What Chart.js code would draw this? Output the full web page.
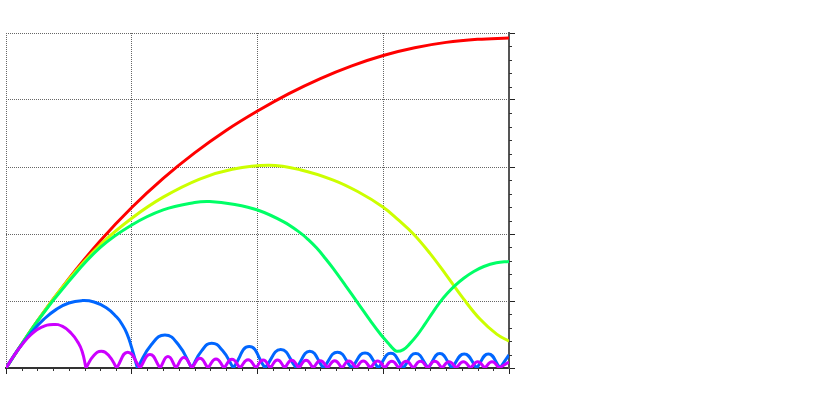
<!DOCTYPE html>
<html>
<head>
<meta charset="utf-8">
<script src="https://cdn.jsdelivr.net/npm/chart.js@4"></script>
<style>
  html, body { margin: 0; padding: 0; background: #fff; }
</style>
</head>
<body>
<canvas id="chart" width="830" height="400"></canvas>
<script>
// values; y = null breaks the line at a zero (cusp)
const redX = [0, 0.25, 0.5, 0.75, 1, 1.25, 1.5, 1.75, 2, 2.25, 2.5, 2.75, 3, 3.25, 3.5, 3.75, 4];
const redY = [0, 0.141, 0.267, 0.380, 0.479, 0.566, 0.642, 0.709, 0.767, 0.819, 0.864, 0.902, 0.933, 0.956, 0.972, 0.981, 0.985];

const yellowX = [0, 0.25, 0.5, 0.75, 1.0, 1.25, 1.54, 1.8, 2.09, 2.338, 2.603, 2.8, 3.0, 3.12, 3.24, 3.37, 3.5, 3.637, 3.769, 3.902, 4.0];
const yellowY = [0, 0.141, 0.265, 0.368, 0.447, 0.51, 0.564, 0.593, 0.605, 0.592, 0.561, 0.526, 0.48, 0.442, 0.400, 0.343, 0.278, 0.207, 0.146, 0.101, 0.08];

const greenX = [0, 0.25, 0.5, 0.75, 1.0, 1.25, 1.5, 1.62, 1.807, 2.006, 2.205, 2.338, 2.41, 2.471, 2.54, 2.6, 2.7, 2.8, 2.9, 2.98, 3.04, 3.08, 3.107, 3.16, 3.21, 3.27, 3.33, 3.39, 3.45, 3.51, 3.57, 3.64, 3.72, 3.8, 3.9, 4.0];
const greenY = [0, 0.14, 0.259, 0.36, 0.427, 0.472, 0.494, 0.497, 0.489, 0.471, 0.437, 0.404, 0.381, 0.358, 0.327, 0.298, 0.246, 0.193, 0.14, 0.1, 0.074, 0.057, 0.05, 0.055, 0.072, 0.098, 0.13, 0.164, 0.196, 0.223, 0.246, 0.268, 0.288, 0.303, 0.314, 0.318];

const blueX = [0, 0.1, 0.2, 0.3, 0.4, 0.5, 0.6, 0.7, 0.8, 0.88, 0.92, 0.96, 1.0, 1.045, 1.045,
  1.045, 1.157, 1.264, 1.37, 1.477, 1.477,
  1.477, 1.557, 1.636, 1.722, 1.808, 1.808,
  1.808, 1.934, 2.06, 2.06,
  2.06, 2.185, 2.309, 2.309,
  2.309, 2.416, 2.523, 2.523,
  2.523, 2.636, 2.749, 2.749,
  2.749, 2.855, 2.961, 2.961,
  2.961, 3.06, 3.159, 3.159,
  3.159, 3.258, 3.358, 3.358,
  3.358, 3.45, 3.545, 3.545,
  3.545, 3.644, 3.743, 3.743,
  3.743, 3.836, 3.929, 3.929,
  3.929, 4.0];
const blueY = [0, 0.057, 0.105, 0.145, 0.175, 0.194, 0.201, 0.197, 0.179, 0.152, 0.132, 0.104, 0.06, 0, null,
  0, 0.07, 0.0985, 0.07, 0, null,
  0, 0.052, 0.074, 0.052, 0, null,
  0, 0.064, 0, null,
  0, 0.055, 0, null,
  0, 0.05, 0, null,
  0, 0.047, 0, null,
  0, 0.045, 0, null,
  0, 0.044, 0, null,
  0, 0.043, 0, null,
  0, 0.043, 0, null,
  0, 0.042, 0, null,
  0, 0.042, 0, null,
  0, 0.039];

const purpleX = [0, 0.06, 0.12, 0.2, 0.28, 0.376, 0.45, 0.52, 0.57, 0.605, 0.636, 0.636,
  0.636, 0.695, 0.758, 0.82, 0.88, 0.88,
  0.88, 0.968, 1.066, 1.066,
  1.066, 1.145, 1.225, 1.225,
  1.225, 1.288, 1.352, 1.352,
  1.352, 1.415, 1.479, 1.479,
  1.479, 1.542, 1.606, 1.606,
  1.606, 1.67, 1.734, 1.734,
  1.734, 1.797, 1.861, 1.861,
  1.861, 1.925, 1.988, 1.988,
  1.988, 2.045, 2.102, 2.102,
  2.102, 2.159, 2.216, 2.216,
  2.216, 2.272, 2.329, 2.329,
  2.329, 2.386, 2.443, 2.443,
  2.443, 2.5, 2.557, 2.557,
  2.557, 2.614, 2.671, 2.671,
  2.671, 2.727, 2.784, 2.784,
  2.784, 2.841, 2.898, 2.898,
  2.898, 2.955, 3.012, 3.012,
  3.012, 3.068, 3.125, 3.125,
  3.125, 3.182, 3.239, 3.239,
  3.239, 3.296, 3.353, 3.353,
  3.353, 3.41, 3.467, 3.467,
  3.467, 3.523, 3.58, 3.58,
  3.58, 3.637, 3.694, 3.694,
  3.694, 3.751, 3.808, 3.808,
  3.808, 3.865, 3.922, 3.922,
  3.922, 4.0];
const purpleY = [0, 0.035, 0.066, 0.1, 0.121, 0.13, 0.124, 0.103, 0.078, 0.05, 0, null,
  0, 0.036, 0.05, 0.036, 0, null,
  0, 0.047, 0, null,
  0, 0.04, 0, null,
  0, 0.034, 0, null,
  0, 0.031, 0, null,
  0, 0.029, 0, null,
  0, 0.027, 0, null,
  0, 0.026, 0, null,
  0, 0.025, 0, null,
  0, 0.024, 0, null,
  0, 0.024, 0, null,
  0, 0.023, 0, null,
  0, 0.023, 0, null,
  0, 0.022, 0, null,
  0, 0.022, 0, null,
  0, 0.021, 0, null,
  0, 0.021, 0, null,
  0, 0.021, 0, null,
  0, 0.02, 0, null,
  0, 0.02, 0, null,
  0, 0.02, 0, null,
  0, 0.02, 0, null,
  0, 0.019, 0, null,
  0, 0.019, 0, null,
  0, 0.019, 0, null,
  0, 0.019, 0, null,
  0, 0.018];

const xMajor = 1, xMinor = 0.125;
const yMajor = 0.2, yMinor = 0.04;

function pts(xs, ys) {
  return xs.map((x, i) => ({ x: x, y: ys[i] }));
}

function isMajor(v, step) {
  return Math.abs(v / step - Math.round(v / step)) < 1e-6;
}

// short minor tick marks outside the bottom and right axes
const minorTicks = {
  id: 'minorTicks',
  afterDraw(chart) {
    const { ctx, scales } = chart;
    const x = scales.x, y = scales.y;
    ctx.save();
    ctx.lineWidth = 1;
    ctx.strokeStyle = '#333';
    x.ticks.forEach(t => {
      if (isMajor(t.value, xMajor)) return;
      const px = Math.round(x.getPixelForValue(t.value)) + 0.5;
      ctx.beginPath();
      ctx.moveTo(px, x.top);
      ctx.lineTo(px, x.top + 3);
      ctx.stroke();
    });
    y.ticks.forEach(t => {
      if (isMajor(t.value, yMajor)) return;
      const py = Math.round(y.getPixelForValue(t.value)) + 0.5;
      ctx.beginPath();
      ctx.moveTo(y.left, py);
      ctx.lineTo(y.left + 3, py);
      ctx.stroke();
    });
    ctx.restore();
  }
};

const ctx = document.getElementById('chart').getContext('2d');
new Chart(ctx, {
  type: 'line',
  data: {
    datasets: [
      { data: pts(redX, redY), borderColor: '#ff0000', order: 5, tension: 0.4 },
      { data: pts(yellowX, yellowY), borderColor: '#ccff00', order: 4, tension: 0.4 },
      { data: pts(greenX, greenY), borderColor: '#00ff66', order: 3, tension: 0.4 },
      { data: pts(blueX, blueY), borderColor: '#0066ff', order: 2, tension: 0.5 },
      { data: pts(purpleX, purpleY), borderColor: '#cc00ff', order: 1, tension: 0.5 }
    ]
  },
  options: {
    responsive: false,
    animation: false,
    layout: { padding: { left: 6, top: 33, right: 315, bottom: 26 } },
    elements: {
      point: { radius: 0, hoverRadius: 0 },
      line: { borderWidth: 3, fill: false, cubicInterpolationMode: 'default' }
    },
    plugins: {
      legend: { display: false },
      tooltip: { enabled: false }
    },
    scales: {
      x: {
        type: 'linear',
        min: 0,
        max: 4,
        ticks: { display: false, stepSize: xMinor },
        grid: {
          color: c => isMajor(c.tick.value, xMajor) ? '#666' : 'rgba(0,0,0,0)',
          tickColor: c => isMajor(c.tick.value, xMajor) ? '#222' : 'rgba(0,0,0,0)',
          tickLength: 6,
          lineWidth: 1
        },
        border: { display: true, color: '#333', width: 2, dash: [1, 1] }
      },
      y: {
        position: 'right',
        min: 0,
        max: 1,
        ticks: { display: false, stepSize: yMinor },
        grid: {
          color: c => isMajor(c.tick.value, yMajor) ? '#666' : 'rgba(0,0,0,0)',
          tickColor: c => isMajor(c.tick.value, yMajor) ? '#222' : 'rgba(0,0,0,0)',
          tickLength: 6,
          lineWidth: 1
        },
        border: { display: true, color: '#555', width: 2, dash: [1, 1] }
      }
    }
  },
  plugins: [minorTicks]
});
</script>
</body>
</html>
